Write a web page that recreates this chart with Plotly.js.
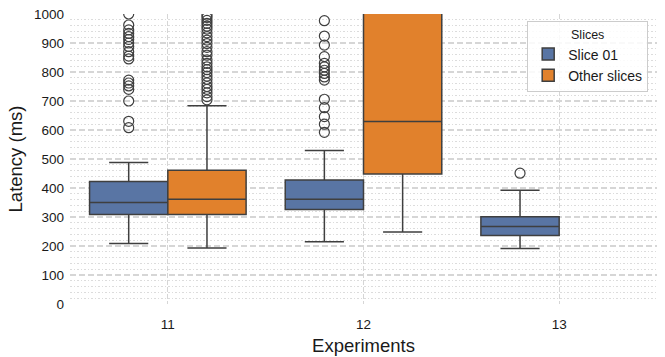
<!DOCTYPE html>
<html>
<head>
<meta charset="utf-8">
<script src="https://cdn.plot.ly/plotly-3.0.1.min.js"></script>
<style>body{margin:0;background:#fff}#chart{width:665px;height:357px}</style>
</head>
<body>
<div id="chart"></div>
<script>
var experiments = ['11', '12', '13'];

// Slice 01 box stats, one per experiment
var slice01Q1 = [309, 326, 236];
var slice01Median = [350, 361, 267];
var slice01Q3 = [422, 428, 301];
var slice01Low = [209, 215, 191];
var slice01High = [488, 529, 392];
var slice01Outliers = [
    [608, 630, 700, 740, 752, 762, 772, 845, 855, 870, 888, 900, 912, 922, 933, 945, 962, 1000],
    [592, 620, 646, 677, 706, 772, 783, 795, 806, 818, 830, 853, 893, 924, 977],
    [451]
];

// Other slices (no data for experiment 13)
var otherQ1 = [309, 448];
var otherMedian = [361, 629];
var otherQ3 = [461, 1100];
var otherLow = [193, 248];
var otherHigh = [684, 1500];
var otherOutliers = [
    [704, 715, 728, 740, 750, 762, 775, 786, 798, 808, 818, 830, 842, 858, 870, 885, 898, 910, 922, 935, 948, 958, 968, 978, 988, 996],
    []
];

var blue = '#5975a4';
var orange = '#e1812c';
var edge = '#3f3f3f';
var shift = 0.2;

function boxTrace(name, color, q1, med, q3, lo, hi, off) {
    return {
        type: 'box',
        name: name,
        x: q1.map(function (v, i) { return i + off; }),
        q1: q1, median: med, q3: q3,
        lowerfence: lo, upperfence: hi,
        width: 0.4,
        whiskerwidth: 0.5,
        boxpoints: false,
        fillcolor: color,
        line: {color: edge, width: 1.5},
        hoverinfo: 'y'
    };
}

function outlierTrace(groups, off) {
    var xs = [], ys = [];
    groups.forEach(function (g, i) {
        g.forEach(function (v) { xs.push(i + off); ys.push(v); });
    });
    return {
        type: 'scatter', mode: 'markers', x: xs, y: ys, showlegend: false,
        marker: {symbol: 'circle-open', size: 10, color: edge, line: {width: 1.2}},
        hoverinfo: 'y'
    };
}

var data = [
    boxTrace('Slice 01', blue, slice01Q1, slice01Median, slice01Q3, slice01Low, slice01High, -shift),
    boxTrace('Other slices', orange, otherQ1, otherMedian, otherQ3, otherLow, otherHigh, shift),
    outlierTrace(slice01Outliers, -shift),
    outlierTrace(otherOutliers, shift)
];

var layout = {
    width: 665, height: 357,
    margin: {l: 70, r: 8, t: 14, b: 53},
    paper_bgcolor: '#fff', plot_bgcolor: '#fff',
    font: {family: 'Liberation Sans, Arial, sans-serif', color: '#1a1a1a', size: 13.5},
    boxmode: 'overlay',
    showlegend: true,
    xaxis: {
        range: [-0.5, 2.5],
        tickvals: [0, 1, 2], ticktext: experiments,
        showgrid: true, gridcolor: '#d6d6d6', griddash: '5px,2px', gridwidth: 1.2,
        zeroline: false, showline: false, ticks: '',
        ticklabelstandoff: 10,
        title: {text: 'Experiments', font: {size: 18.5, color: '#1a1a1a'}, standoff: 8}
    },
    yaxis: {
        range: [0, 1000], dtick: 100,
        showgrid: true, gridcolor: '#d6d6d6', griddash: '6px,3px', gridwidth: 1.2,
        minor: {dtick: 20, showgrid: true, gridcolor: '#dcdcdc', griddash: '1.5px,2px', gridwidth: 1},
        zeroline: false, showline: false, ticks: '',
        ticklabelstandoff: 5,
        title: {text: 'Latency (ms)', font: {size: 18.5, color: '#1a1a1a'}, standoff: 6}
    },
    legend: {
        x: 0.985, y: 0.975, xanchor: 'right', yanchor: 'top',
        bgcolor: 'rgba(255,255,255,0.85)', bordercolor: '#cccccc', borderwidth: 1,
        font: {size: 14, color: '#1a1a1a'},
        title: {text: 'Slices', side: 'top center', font: {size: 12.5, color: '#1a1a1a'}}
    }
};

Plotly.newPlot('chart', data, layout, {displayModeBar: false, staticPlot: true});
</script>
</body>
</html>
